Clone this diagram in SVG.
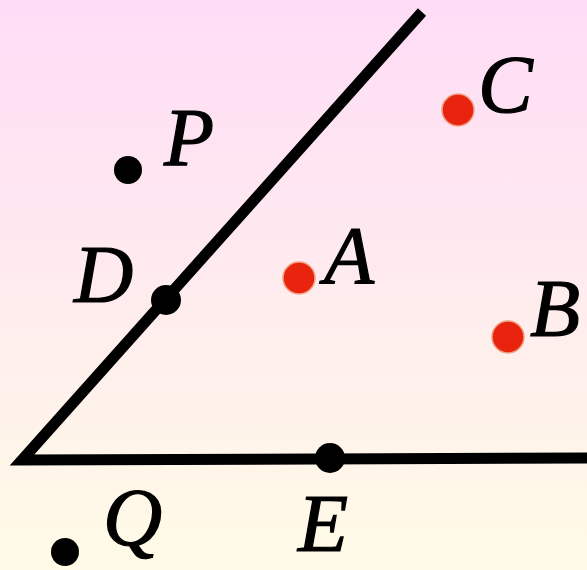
<svg xmlns="http://www.w3.org/2000/svg" width="587" height="570" viewBox="0 0 587 570">
<defs>
<linearGradient id="bg" x1="0" y1="0" x2="0" y2="1">
<stop offset="0" stop-color="#fedcf6"/>
<stop offset="1" stop-color="#fffbe6"/>
</linearGradient>
<style>
.lbl{font-family:"Liberation Serif","Times New Roman",serif;font-style:italic;font-size:82px;fill:#000;stroke:#000;stroke-width:1.2}
.blk{fill:#000}
.red{fill:#e8240e;stroke:#f0a080;stroke-width:1.5}
.ray{stroke:#000;stroke-width:11;fill:none;stroke-linejoin:miter}
</style>
</defs>
<rect width="587" height="570" fill="url(#bg)"/>
<g id="connectors">
<polyline class="ray" points="422,12 22,460 587,458"/>
</g>
<g id="P"><circle class="blk" cx="128" cy="170" r="14"/><text class="lbl" x="164" y="165">P</text></g>
<g id="C"><circle class="red" cx="458" cy="110" r="16"/><text class="lbl" x="478" y="112">C</text></g>
<g id="A"><circle class="red" cx="299" cy="278" r="16"/><text class="lbl" x="324" y="283">A</text></g>
<g id="B"><circle class="red" cx="508" cy="337" r="16"/><text class="lbl" x="530" y="336">B</text></g>
<g id="D"><circle class="blk" cx="166" cy="300" r="15"/><text class="lbl" x="74" y="302">D</text></g>
<g id="E"><circle class="blk" cx="330" cy="458" r="15"/><text class="lbl" x="298" y="551" font-size="76">E</text></g>
<g id="Q"><circle class="blk" cx="65" cy="552" r="14"/><text class="lbl" x="103" y="545">Q</text></g>
</svg>
